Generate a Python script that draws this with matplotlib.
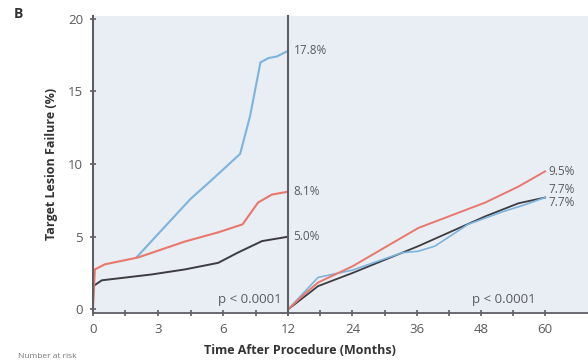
import matplotlib.pyplot as plt

plt.rcParams['font.family'] = ['Open Sans', 'DejaVu Sans']

# ---- data (months, % target lesion failure) ----
# 0-12 month landmark
gray_m1 = [0, 0.02, 0.55, 3.6, 5.66, 7.7, 8.9, 10.4, 12]
gray_v1 = [0, 1.6, 2.0, 2.4, 2.75, 3.2, 3.9, 4.7, 5.0]
red_m1 = [0, 0.12, 0.74, 2.77, 5.66, 7.7, 9.2, 10.15, 11.0, 12]
red_v1 = [0, 2.75, 3.1, 3.57, 4.67, 5.3, 5.85, 7.35, 7.9, 8.1]
blue_m1 = [2.7, 4.1, 6.0, 7.2, 9.05, 9.66, 10.3, 10.8, 11.3, 12]
blue_v1 = [3.6, 5.3, 7.6, 8.8, 10.7, 13.3, 17.0, 17.3, 17.4, 17.8]

# 12-60 month landmark
gray_m2 = [12, 17.6, 24, 36.3, 48.8, 55, 60]
gray_v2 = [0, 1.6, 2.5, 4.35, 6.4, 7.3, 7.7]
red_m2 = [12, 14.6, 17.6, 24, 36.3, 41.3, 48.8, 55, 60]
red_v2 = [0, 0.9, 1.85, 2.96, 5.6, 6.3, 7.35, 8.45, 9.5]
blue_m2 = [12, 17.6, 24, 33.3, 36.3, 39.4, 45.6, 51.9, 56.2, 60]
blue_v2 = [0, 2.2, 2.7, 3.9, 4.0, 4.35, 5.85, 6.7, 7.2, 7.7]

yticks = [0, 5, 10, 15, 20]
left_xticks = [0, 2, 4, 6, 8, 10, 12]
left_xlabels = ['0', '', '3', '', '6', '', '12']
right_xticks = [12, 18, 24, 30, 36, 42, 48, 54, 60]
right_xlabels = ['', '', '24', '', '36', '', '48', '', '60']

BLUE = '#7db3dc'
RED = '#e8776c'
GRAY = '#3c3c40'
BG = '#e9eef5'
TXT = '#5a5a5e'
SPINE = '#5e5e64'

fig = plt.figure(figsize=(5.88, 3.61), dpi=100)
ax1 = fig.add_axes([0.158, 0.133, 0.332, 0.823])
ax2 = fig.add_axes([0.490, 0.133, 0.510, 0.823], sharey=ax1)

for ax in (ax1, ax2):
    ax.set_facecolor(BG)
    for s in ('top', 'right'):
        ax.spines[s].set_visible(False)
    ax.spines['bottom'].set_color(SPINE)
    ax.spines['left'].set_color(SPINE)
    ax.spines['left'].set_linewidth(1.5)
    ax.spines['bottom'].set_linewidth(1.3)
    ax.tick_params(colors=SPINE, labelcolor=TXT, labelsize=9.5, length=4,
                   width=1.2, direction='inout', pad=5)

# left panel
ax1.plot(gray_m1, gray_v1, color=GRAY, lw=1.4)
ax1.plot(blue_m1, blue_v1, color=BLUE, lw=1.5)
ax1.plot(red_m1, red_v1, color=RED, lw=1.5)
ax1.set_xlim(0, 12)
ax1.set_ylim(-0.25, 20.2)
ax1.set_yticks(yticks)
ax1.set_xticks(left_xticks)
ax1.set_xticklabels(left_xlabels)
ax1.text(11.6, 0.65, 'p < 0.0001', ha='right', va='center', fontsize=9.5, color=TXT)

# right panel
ax2.plot(gray_m2, gray_v2, color=GRAY, lw=1.3)
ax2.plot(blue_m2, blue_v2, color=BLUE, lw=1.2)
ax2.plot(red_m2, red_v2, color=RED, lw=1.4)
ax2.set_xlim(12, 68)
ax2.set_xticks(right_xticks)
ax2.set_xticklabels(right_xlabels)
ax2.tick_params(axis='y', left=False, labelleft=False)
ax2.text(52.3, 0.65, 'p < 0.0001', ha='center', va='center', fontsize=9.5, color=TXT)

# end-point labels
lab = dict(fontsize=8.5, color=TXT, va='center', ha='left')
ax2.text(13.0, blue_v1[-1], '17.8%', **lab)
ax2.text(13.0, red_v1[-1], '8.1%', **lab)
ax2.text(13.0, gray_v1[-1], '5.0%', **lab)
ax2.text(60.6, red_v2[-1], '9.5%', **lab)
ax2.text(60.6, 8.25, '7.7%', **lab)
ax2.text(60.6, 7.35, '7.7%', **lab)

fig.text(0.024, 0.962, 'B', fontsize=10, fontweight='bold', color='#333333', va='center')
fig.text(0.088, 0.545, 'Target Lesion Failure (%)', rotation=90, fontsize=9,
         fontweight='bold', color='#333333', ha='center', va='center')
fig.text(0.51, 0.03, 'Time After Procedure (Months)', fontsize=9,
         fontweight='bold', color='#333333', ha='center', va='center')
fig.text(0.03, 0.003, 'Number at risk', fontsize=6, color='#777777',
         ha='left', va='bottom')

fig.savefig('out.png', dpi=100)
